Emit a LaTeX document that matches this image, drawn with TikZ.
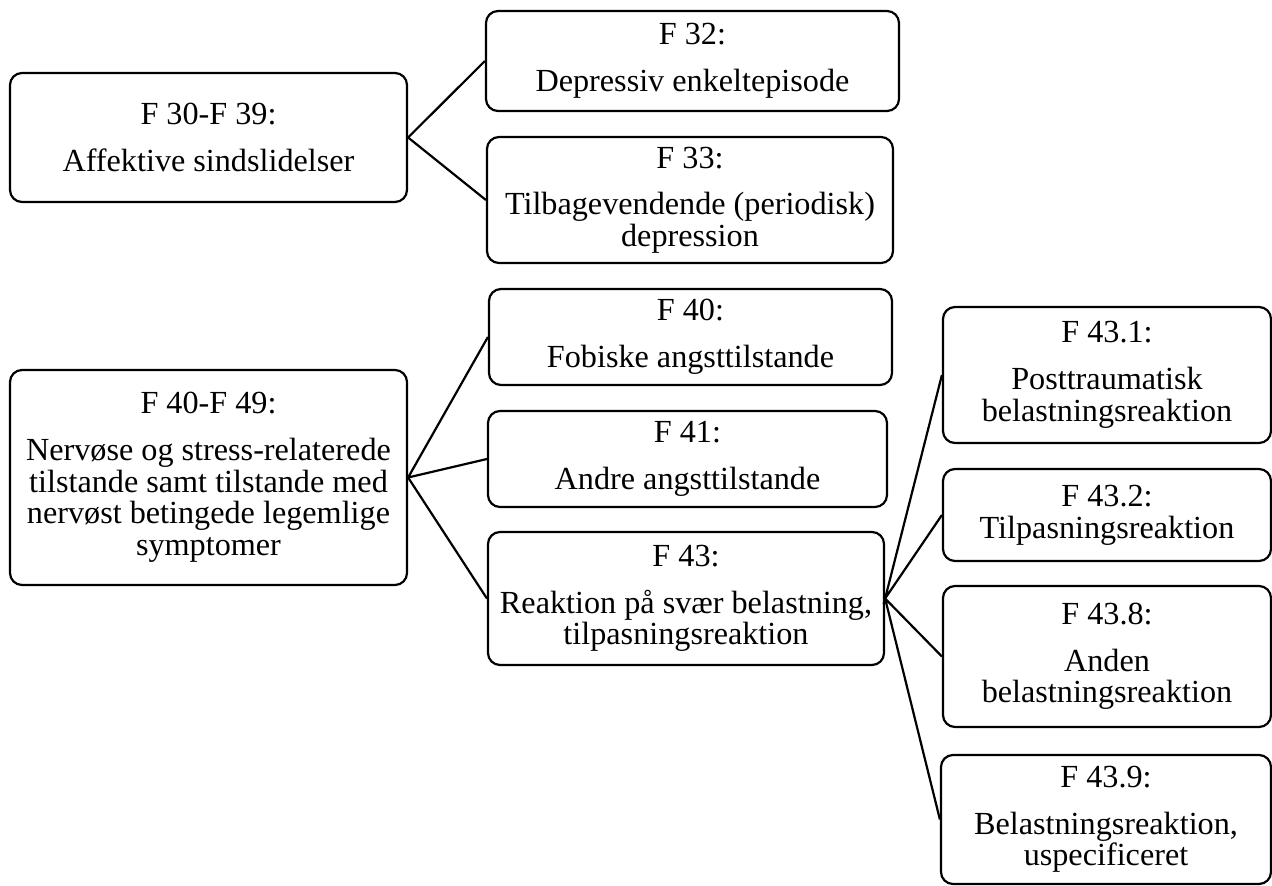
\documentclass[tikz,border=0pt]{standalone}
\usepackage{fontspec}
\setmainfont{Liberation Serif}
\begin{document}
\begin{tikzpicture}[x=1pt,y=-1pt,
  box/.style={draw=black, line width=2.2pt, rounded corners=12pt, fill=white,
    inner sep=0pt, align=center, anchor=center,
    font={\fontsize{32.2}{31.7}\selectfont}},
  link/.style={draw=black, line width=2.2pt}]
\useasboundingbox (0,0) rectangle (1272,886);
\clip (0,0) rectangle (1272,886);
% left column
\node[box, minimum width=397pt, minimum height=129pt] (A) at (208.5,137.5) {F 30-F 39:\\[15pt]Affektive sindslidelser};
\node[box, minimum width=397pt, minimum height=215pt] (D) at (208.5,477.5) {F 40-F 49:\\[15pt]Nervøse og stress-relaterede\\tilstande samt tilstande med\\nervøst betingede legemlige\\symptomer};
% middle column
\node[box, minimum width=413pt, minimum height=100pt] (B) at (692.5,61) {F 32:\\[15pt]Depressiv enkeltepisode};
\node[box, minimum width=406pt, minimum height=126pt] (C) at (690,200) {F 33:\\[15pt]Tilbagevendende (periodisk)\\depression};
\node[box, minimum width=403pt, minimum height=96pt] (E) at (690.5,337) {F 40:\\[15pt]Fobiske angsttilstande};
\node[box, minimum width=399pt, minimum height=96pt] (F) at (687.5,459) {F 41:\\[15pt]Andre angsttilstande};
\node[box, minimum width=396pt, minimum height=133pt] (G) at (686,598.5) {F 43:\\[15pt]Reaktion på svær belastning,\\tilpasningsreaktion};
% right column
\node[box, minimum width=328pt, minimum height=136pt] (H) at (1107,375) {F 43.1:\\[15pt]Posttraumatisk\\belastningsreaktion};
\node[box, minimum width=328pt, minimum height=92pt] (I) at (1107,515) {F 43.2:\\Tilpasningsreaktion};
\node[box, minimum width=328pt, minimum height=141pt] (J) at (1107,656.5) {F 43.8:\\[15pt]Anden\\belastningsreaktion};
\node[box, minimum width=330pt, minimum height=129pt] (K) at (1106,819.5) {F 43.9:\\[15pt]Belastningsreaktion,\\uspecificeret};
% connectors
\draw[link] (B.west) -- (A.east) -- (C.west);
\draw[link] (E.west) -- (D.east) -- (F.west);
\draw[link] (D.east) -- (G.west);
\draw[link] (H.west) -- (G.east) -- (I.west);
\draw[link] (J.west) -- (G.east) -- (K.west);
\end{tikzpicture}
\end{document}
